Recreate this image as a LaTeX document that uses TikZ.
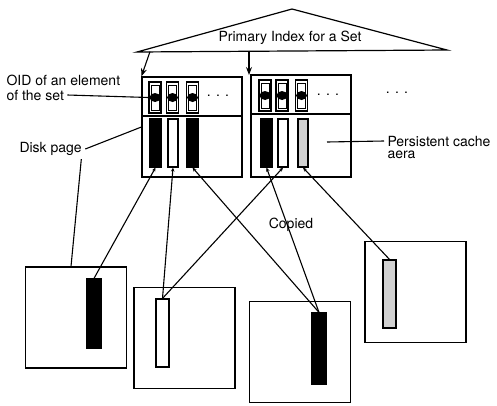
\documentclass[tikz,border=0pt]{standalone}
\usepackage{fontspec}
\setmainfont{TeX Gyre Heros}
\usetikzlibrary{arrows.meta, positioning}

\begin{document}
\begin{tikzpicture}[x=1pt, y=-1pt, >=Stealth,
    every node/.style={font=\fontsize{14}{15}\selectfont},
    box/.style={draw, line width=1.2pt, inner sep=0pt},
    darkbar/.style={box, fill=black, minimum width=11pt, minimum height=48pt},
    lightbar/.style={box, fill=white, minimum width=10pt, minimum height=48pt},
    dotbar/.style={box, fill=black!18, minimum width=10pt, minimum height=48pt},
    slot/.style={box, minimum width=12pt, minimum height=31pt},
    page/.style={box, minimum width=101pt, minimum height=101pt},
    link/.style={{Stealth[length=4pt,width=3.5pt]}-, line width=1.1pt}]
  \useasboundingbox (0,0) rectangle (497,405);

  % Primary index
  \coordinate (tl) at (137,52);
  \coordinate (tt) at (292,9);
  \coordinate (tr) at (447,50);
  \draw[line width=1.2pt] (tl) -- (tt) -- (tr) -- cycle;
  \node (index) at (290,38) {Primary Index for a Set};

  % Cache boxes
  \node[box, minimum width=100pt, minimum height=100pt] (lbox) at (192,127) {};
  \node[box, minimum width=100pt, minimum height=102pt] (rbox) at (301,126) {};
  \draw[line width=1.2pt] (lbox.west |- 0,116) -- (lbox.east |- 0,116);
  \draw[line width=1.2pt] (rbox.west |- 0,114) -- (rbox.east |- 0,114);
  \draw[->, line width=1.1pt] (150,51.6) -- (lbox.north west);
  \draw[->, line width=1.1pt] (249,50.5) -- (249,75);

  % OID slots
  \foreach \x [count=\i] in {155,172.5,192.5} {
    \node[slot] (ls\i) at (\x,97.5) {};
    \draw[line width=0.8pt] (\x-4,85) rectangle (\x+4,110);
    \fill (\x,97.5) ellipse (5.5pt and 4.5pt);
  }
  \foreach \x [count=\i] in {265,282,301.5} {
    \node[slot] (rs\i) at (\x,95.5) {};
    \draw[line width=0.8pt] (\x-4,83) rectangle (\x+4,108);
    \fill (\x,95.5) ellipse (5.5pt and 4.5pt);
  }
  \node (ldots) at (218,96) {. . .};
  \node (rdots) at (328,95) {. . .};
  \node (odots) at (397,93) {. . .};

  % Bars in the cache
  \node[darkbar]  (lb1) at (155.5,143) {};
  \node[lightbar] (lb2) at (173,143) {};
  \node[darkbar]  (lb3) at (192.5,143) {};
  \node[darkbar]  (rb1) at (266.5,143) {};
  \node[lightbar] (rb2) at (283,143) {};
  \node[dotbar]   (rb3) at (303,143) {};

  % Disk pages
  \node[page] (pa) at (76,317.5) {};
  \node[page] (pb) at (184.5,338) {};
  \node[page] (pc) at (300,352) {};
  \node[page] (pd) at (415.5,292) {};
  \node[darkbar, minimum width=14pt, minimum height=69pt]  (ba) at (94,313.5) {};
  \node[lightbar, minimum width=13pt, minimum height=68pt] (bb) at (162.5,333) {};
  \node[darkbar, minimum width=14pt, minimum height=71pt]  (bc) at (319,348.5) {};
  \node[dotbar, minimum width=13pt, minimum height=68pt]   (bd) at (389.5,294) {};

  % Links between cache and disk
  \draw[link] (lb1.south) -- (ba.north);
  \draw[link] (lb2.south) -- (bb.north);
  \draw[link] (lb3.south) -- (bc.north);
  \draw[link] (rb1.south) -- (bc.north);
  \draw[link] (rb2.south) -- (bb.north);
  \draw[link] (rb3.south) -- (bd.north);
  \node (copied) at (291,225) {Copied};

  % Labels
  \node[anchor=west] (oida) at (3,80) {OID of an element};
  \node[anchor=west] (oidb) at (3,95) {of the set};
  \draw[line width=1.1pt] (oidb.east) -- (ls1.west);
  \node[anchor=west] (disk) at (16,149) {Disk page};
  \draw[line width=1.1pt] (disk.east) -- (lbox.west);
  \draw[line width=1.1pt] ([xshift=-4pt]disk.south east) -- ([xshift=-5pt]pa.north);
  \node[anchor=west] (cachea) at (384,141) {Persistent cache};
  \node[anchor=west] (cacheb) at (384,155) {aera};
  \coordinate (inr) at (327,142);
  \draw[line width=1.1pt] (inr) -- (cachea.west);
\end{tikzpicture}
\end{document}
